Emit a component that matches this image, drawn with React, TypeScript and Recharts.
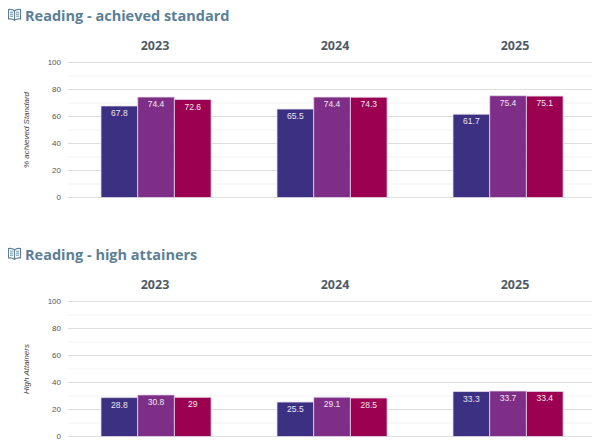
import React from "react";
import {
  BarChart,
  Bar,
  XAxis,
  YAxis,
  CartesianGrid,
  LabelList,
} from "recharts";

const years = ["2023", "2024", "2025"];
const standardA = [67.8, 65.5, 61.7];
const standardB = [74.4, 74.4, 75.4];
const standardC = [72.6, 74.3, 75.1];
const highA = [28.8, 25.5, 33.3];
const highB = [30.8, 29.1, 33.7];
const highC = [29, 28.5, 33.4];
const majorTicks = [0, 20, 40, 60, 80, 100];
const minorTicks = [10, 30, 50, 70, 90];

const COLORS = ["#3c3082", "#7e2e87", "#9c0050"];
const FONT = "'Open Sans', sans-serif";
const SMALL_FONT = "'Liberation Sans', Arial, sans-serif";

const BookIcon = ({ top }: { top: number }) => (
  <svg
    width={15}
    height={14}
    viewBox="0 0 15 14"
    style={{ position: "absolute", left: 7, top }}
    fill="none"
    stroke="#5b8096"
    strokeWidth={1.2}
  >
    <path d="M7.5 3 C6 1.6 3.5 1.2 1.5 1.5 V11 C3.5 10.7 6 11 7.5 12.4 C9 11 11.5 10.7 13.5 11 V1.5 C11.5 1.2 9 1.6 7.5 3 Z M7.5 3 V12.4" />
    <path d="M3 4.2 H6 M3 6.2 H6 M3 8.2 H6 M9 4.2 H12 M9 6.2 H12 M9 8.2 H12" strokeWidth={0.9} />
  </svg>
);

// the year headings sit a little wider apart than the bar groups
const YearTick = ({ x, y, index, payload }: any) => (
  <text
    x={x - 1 + index * 4}
    y={y - 5}
    textAnchor="middle"
    fontFamily={FONT}
    fontWeight={700}
    fontSize={12.5}
    fill="#4f5b66"
  >
    {payload.value}
  </text>
);

interface PanelProps {
  title: string;
  axisLabel: string;
  top: number;
  a: number[];
  b: number[];
  c: number[];
}

const Panel: React.FC<PanelProps> = ({ title, axisLabel, top, a, b, c }) => {
  const data = years.map((year, i) => ({ year, a: a[i], b: b[i], c: c[i] }));
  const series = ["a", "b", "c"];

  return (
    <>
      <BookIcon top={top + 8} />
      <div
        style={{
          position: "absolute",
          left: 25,
          top: top + 6,
          fontFamily: FONT,
          fontWeight: 700,
          fontSize: 14.5,
          lineHeight: "20px",
          color: "#5b8096",
          whiteSpace: "nowrap",
        }}
      >
        {title}
      </div>
      <div style={{ position: "absolute", left: 0, top: top + 30 }}>
        <BarChart
          width={600}
          height={180}
          data={data}
          margin={{ top: 2.5, right: 4, bottom: 12.5, left: 38 }}
          barGap={0}
          barSize={36.7}
        >
          <CartesianGrid horizontalValues={minorTicks} vertical={false} stroke="#f2f2f2" />
          <CartesianGrid horizontalValues={majorTicks} vertical={false} stroke="#dedede" />
          <XAxis
            dataKey="year"
            orientation="top"
            xAxisId="top"
            height={30}
            axisLine={false}
            tickLine={false}
            tick={<YearTick />}
          />
          <XAxis dataKey="year" height={0} tick={false} tickLine={false} axisLine={{ stroke: "#999999" }} />
          <YAxis
            domain={[0, 100]}
            ticks={majorTicks}
            axisLine={false}
            tickLine={false}
            width={30}
            tickMargin={1}
            tick={{ fontFamily: SMALL_FONT, fontSize: 8, fill: "#555555" }}
            label={{
              value: axisLabel,
              angle: -90,
              position: "insideLeft",
              dx: -17,
              dy: 0,
              style: { fontFamily: SMALL_FONT, fontStyle: "italic", fontSize: 8, fill: "#444444", textAnchor: "middle" },
            }}
          />
          {series.map((key, i) => (
            <Bar
              key={key}
              dataKey={key}
              fill={COLORS[i]}
              stroke="#e6d9ea"
              strokeWidth={0.8}
              isAnimationActive={false}
            >
              <LabelList
                dataKey={key}
                position="insideTop"
                offset={4}
                style={{ fontFamily: SMALL_FONT, fontSize: 8.5, fill: "#f0e6f0" }}
              />
            </Bar>
          ))}
        </BarChart>
      </div>
    </>
  );
};

export default function App() {
  return (
    <div
      style={{
        position: "relative",
        width: 600,
        height: 442,
        margin: "-8px -8px 0 -8px",
        overflow: "hidden",
        background: "#ffffff",
      }}
    >
      <Panel
        title="Reading - achieved standard"
        axisLabel="% achieved Standard"
        top={0}
        a={standardA}
        b={standardB}
        c={standardC}
      />
      <Panel
        title="Reading - high attainers"
        axisLabel="High Attainers"
        top={239}
        a={highA}
        b={highB}
        c={highC}
      />
    </div>
  );
}
